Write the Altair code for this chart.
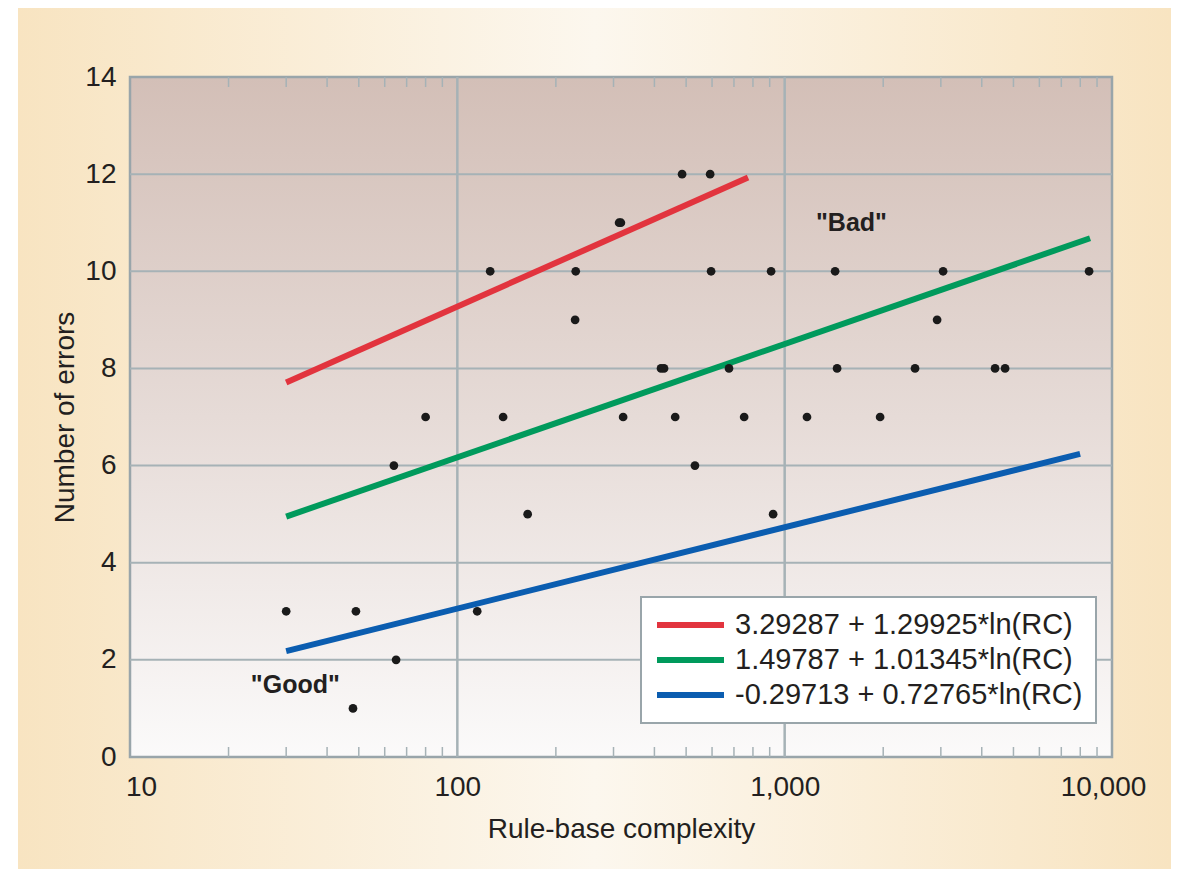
import altair as alt
import pandas as pd

# ---------------- data ----------------
rc_values = [30, 49, 48, 65, 115, 64, 80, 126, 138, 164, 486, 592, 312, 316,
             230, 596, 909, 229, 428, 419, 676, 321, 463, 752, 1170, 532, 922,
             1426, 3048, 8511, 2922, 1446, 2502, 4393, 4714, 1957]
errors = [3, 3, 1, 2, 3, 6, 7, 10, 7, 5, 12, 12, 11, 11,
          10, 10, 10, 9, 8, 8, 8, 7, 7, 7, 7, 6, 5,
          10, 10, 10, 9, 8, 8, 8, 8, 7]

eq_labels = ["3.29287 + 1.29925*ln(RC)",
             "1.49787 + 1.01345*ln(RC)",
             "-0.29713 + 0.72765*ln(RC)"]
line_rc_start = [30, 30, 30]
line_rc_end = [773, 8570, 7990]
line_err_start = [7.71, 4.95, 2.18]
line_err_end = [11.93, 10.68, 6.24]
line_colors = ["#e2343e", "#009a5c", "#0b5db0"]

note_texts = ['"Bad"', '"Good"']
note_rc = [1600, 32]
note_err = [11.0, 1.48]

x_ticks = [10, 100, 1000, 10000]
x_minor = [20, 30, 40, 50, 60, 70, 80, 90,
           200, 300, 400, 500, 600, 700, 800, 900,
           2000, 3000, 4000, 5000, 6000, 7000, 8000, 9000]
y_ticks = [0, 2, 4, 6, 8, 10, 12, 14]
x_grid = [100, 1000]
y_grid = [2, 4, 6, 8, 10, 12]

# ---------------- styling ----------------
W, H = 982, 680
FONT = "Liberation Sans"
TXT = "#231f20"
GRID = "#a6b2b6"
BORDER = "#99a5aa"

x_scale = alt.Scale(type="log", domain=[10, 10000], nice=False)
y_scale = alt.Scale(domain=[0, 14], nice=False)

x_axis = alt.Axis(values=x_ticks, format=",", grid=False, ticks=False, domain=False,
                  labelFont=FONT, labelFontSize=28, labelColor=TXT, labelPadding=16,
                  labelFlush=False,
                  labelOffset={"condition": [{"test": "datum.value <= 10", "value": 11},
                                             {"test": "datum.value >= 10000", "value": -9}],
                               "value": 0},
                  title="Rule-base complexity", titleFont=FONT, titleFontSize=28,
                  titleFontWeight="normal", titleColor=TXT, titlePadding=14, zindex=1)
y_axis = alt.Axis(values=y_ticks, grid=False, ticks=False, domain=False,
                  labelFont=FONT, labelFontSize=28, labelColor=TXT, labelPadding=14,
                  title="Number of errors", titleFont=FONT, titleFontSize=28,
                  titleFontWeight="normal", titleColor=TXT, titlePadding=5, zindex=1)


def X(field):
    return alt.X(field, type="quantitative", scale=x_scale, axis=x_axis, title="Rule-base complexity")


def Y(field):
    return alt.Y(field, type="quantitative", scale=y_scale, axis=y_axis, title="Number of errors")


one = pd.DataFrame({"k": [0]})

PAD_L, PAD_T, PAD_R, PAD_B = 122, 69, 59, 112

# outer beige page background
outer = alt.Chart(one).mark_rect(
    fill=alt.LinearGradient(gradient="linear", x1=0, x2=1, y1=0, y2=0, stops=[
        alt.GradientStop(color="#f8e4c1", offset=0),
        alt.GradientStop(color="#fcf7ee", offset=0.5),
        alt.GradientStop(color="#f8e4c1", offset=1)])
).encode(x=alt.value(-112), x2=alt.value(W + PAD_R), y=alt.value(-69), y2=alt.value(H + PAD_B))

# plot panel with vertical gradient
panel_df = pd.DataFrame({"x0": [x_ticks[0]], "x1": [x_ticks[-1]], "y0": [y_ticks[0]], "y1": [y_ticks[-1]]})
panel = alt.Chart(panel_df).mark_rect(
    fill=alt.LinearGradient(gradient="linear", x1=0, x2=0, y1=0, y2=1, stops=[
        alt.GradientStop(color="#d3bfb7", offset=0),
        alt.GradientStop(color="#e6dbd7", offset=0.5),
        alt.GradientStop(color="#fbfafa", offset=1)]),
    stroke=BORDER, strokeWidth=2.5
).encode(x=X("x0"), x2="x1", y=Y("y0"), y2="y1")

hgrid = alt.Chart(pd.DataFrame({"g": y_grid})).mark_rule(color=GRID, strokeWidth=2).encode(y=Y("g"))
vgrid = alt.Chart(pd.DataFrame({"g": x_grid})).mark_rule(color=GRID, strokeWidth=2.5).encode(x=X("g"))

minor_df = pd.DataFrame({"m": x_minor})
minor_bottom = alt.Chart(minor_df).mark_rule(color=GRID, strokeWidth=1.5).encode(
    x=X("m"), y=alt.value(H), y2=alt.value(H - 10))
minor_top = alt.Chart(minor_df).mark_rule(color=GRID, strokeWidth=1.5).encode(
    x=X("m"), y=alt.value(0), y2=alt.value(10))

# regression lines
rows = []
for i, lab in enumerate(eq_labels):
    rows.append({"eq": lab, "rc": line_rc_start[i], "err": line_err_start[i], "o": 0})
    rows.append({"eq": lab, "rc": line_rc_end[i], "err": line_err_end[i], "o": 1})
lines_df = pd.DataFrame(rows)

legend = alt.Legend(orient="none", legendX=511, legendY=520, title=None,
                    fillColor="white", strokeColor=BORDER, padding=13,
                    symbolType="stroke", symbolSize=4489, symbolStrokeWidth=6,
                    clipHeight=30, rowPadding=5, labelOffset=8,
                    labelFont=FONT, labelFontSize=29, labelColor=TXT, labelLimit=0)

lines = alt.Chart(lines_df).mark_line(strokeWidth=6, strokeCap="butt").encode(
    x=X("rc"), y=Y("err"), order="o:Q",
    color=alt.Color("eq:N", scale=alt.Scale(domain=eq_labels, range=line_colors),
                    sort=eq_labels, legend=legend))

points = alt.Chart(pd.DataFrame({"rc": rc_values, "err": errors})).mark_circle(
    size=76, color="#1a1a1a", opacity=1).encode(x=X("rc"), y=Y("err"))

notes = alt.Chart(pd.DataFrame({"t": note_texts, "rc": note_rc, "err": note_err})).mark_text(
    font=FONT, fontSize=25, fontWeight="bold", color=TXT, align="center", baseline="middle"
).encode(x=X("rc"), y=Y("err"), text="t:N")

chart = alt.layer(outer, panel, hgrid, vgrid, minor_bottom, minor_top, lines, points, notes).properties(
    width=W, height=H,
    autosize=alt.AutoSizeParams(type="none"),
    padding={"left": PAD_L, "top": PAD_T, "right": PAD_R, "bottom": PAD_B},
    background="white",
).configure_view(stroke=None).configure_legend(strokeWidth=2)

chart.save("out.html", embed_options={"renderer": "svg", "actions": False})
